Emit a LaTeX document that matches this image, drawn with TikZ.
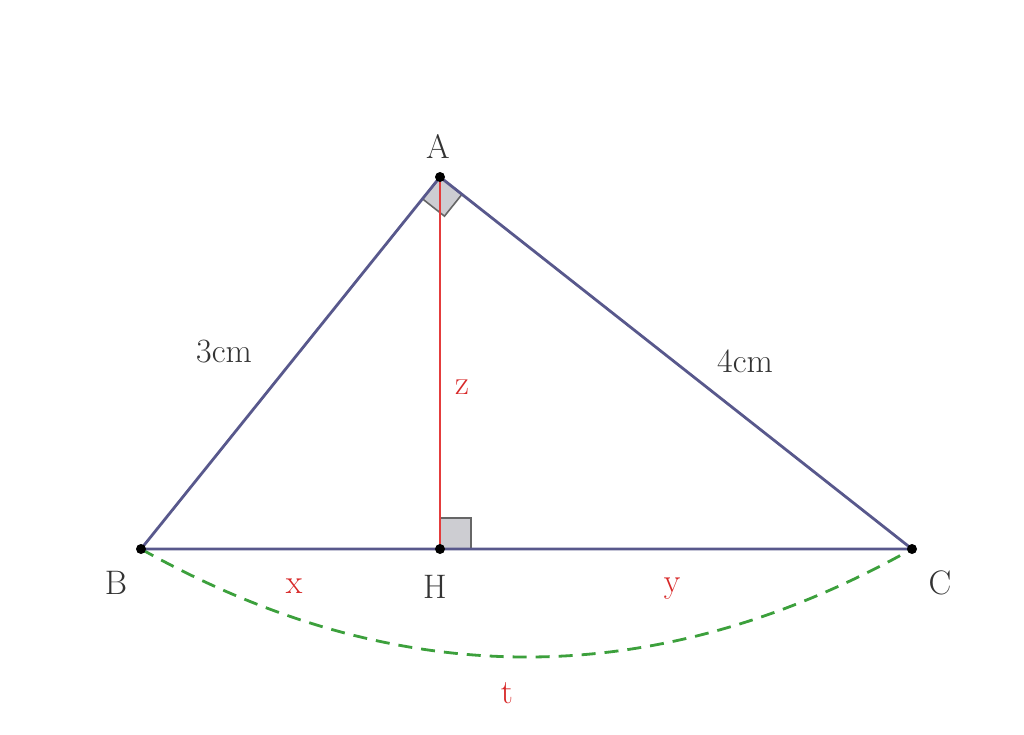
\documentclass[tikz,border=0pt]{standalone}
\usetikzlibrary{calc}
\definecolor{side}{RGB}{88,88,140}
\definecolor{alt}{RGB}{228,60,60}
\definecolor{arcg}{RGB}{60,160,60}
\definecolor{lbl}{RGB}{215,40,40}
\definecolor{mark}{RGB}{205,205,210}
\begin{document}
\begin{tikzpicture}[x=1pt,y=-1pt,
  sideline/.style={draw=side,line width=2.8pt},
  altline/.style={draw=alt,line width=2.2pt},
  arcline/.style={draw=arcg,line width=2.8pt,dash pattern=on 14pt off 9pt},
  ramark/.style={fill=mark,draw=gray!80!black,line width=1.6pt},
  dot/.style={circle,fill=black,inner sep=0pt,minimum size=10pt},
  lab/.style={font=\fontsize{34}{40}\selectfont,text=black!80,inner sep=0pt},
  rlab/.style={font=\fontsize{34}{40}\selectfont,text=lbl,inner sep=0pt}]
\useasboundingbox (0,0) rectangle (1024,734);
\coordinate (A) at (440,177);
\coordinate (B) at (141,549);
\coordinate (C) at (912,549);
\coordinate (H) at (440,549);
% right angle marks
\draw[ramark] (A) -- ($(A)!28pt!(B)$) -- ($($(A)!28pt!(B)$)+($(A)!28pt!(C)$)-(A)$) -- ($(A)!28pt!(C)$) -- cycle;
\draw[ramark] (H) rectangle ($(H)+(31,-31)$);
% arc
\draw[arcline] (B) .. controls (398,693) and (655,693) .. (C);
% sides
\draw[sideline] (A) -- (B) -- (C) -- cycle;
\draw[altline] (A) -- (H);
% points
\node[dot] (a) at (A) {};
\node[dot] (b) at (B) {};
\node[dot] (c) at (C) {};
\node[dot] (h) at (H) {};
% labels
\node[lab] (la) at (438,146) {A};
\node[lab] (lb) at (116,583) {B};
\node[lab] (lc) at (940,583) {C};
\node[lab] (lh) at (435,587) {H};
\node[lab] (l3) at (224,352) {3cm};
\node[lab] (l4) at (745,361) {4cm};
\node[rlab] (lx) at (294,586) {x};
\node[rlab] (ly) at (672,589) {y};
\node[rlab] (lz) at (462,387) {z};
\node[rlab] (lt) at (507,693) {t};
\end{tikzpicture}
\end{document}
